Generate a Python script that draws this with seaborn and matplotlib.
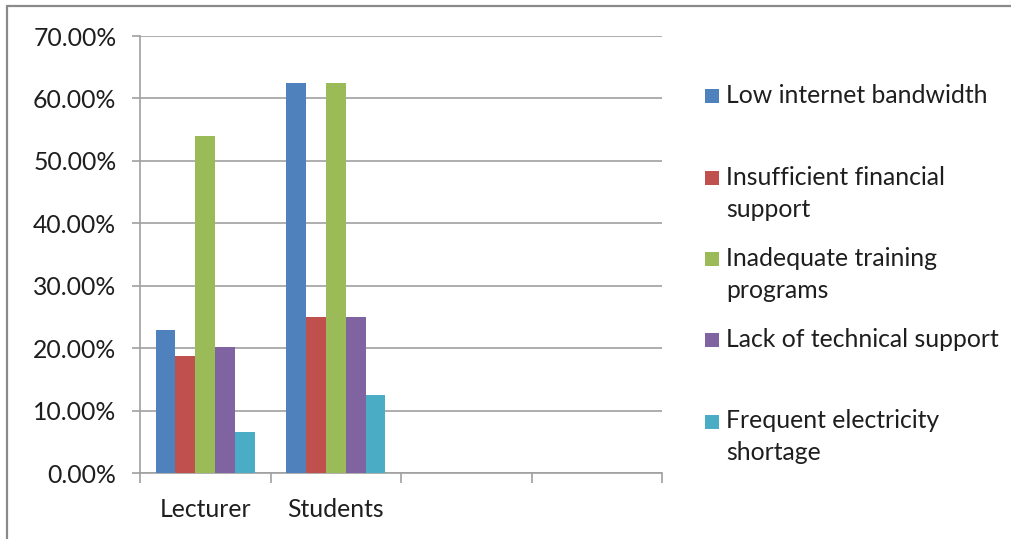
import matplotlib
matplotlib.use("Agg")
import matplotlib.pyplot as plt
import pandas as pd
import seaborn as sns
from matplotlib.lines import Line2D
from matplotlib.patches import Rectangle
from matplotlib.ticker import FixedLocator, PercentFormatter

# Respondent groups and reported challenges (percent of respondents)
groups = ["Lecturer", "Students"]
causes = [
    "Low internet bandwidth",
    "Insufficient financial support",
    "Inadequate training programs",
    "Lack of technical support",
    "Frequent electricity shortage",
]
legend_labels = [
    "Low internet bandwidth",
    "Insufficient financial\nsupport",
    "Inadequate training\nprograms",
    "Lack of technical support",
    "Frequent electricity\nshortage",
]
lecturer_pct = [22.9, 18.8, 54.0, 20.2, 6.6]
student_pct = [62.5, 25.0, 62.5, 25.0, 12.5]
colors = ["#4F81BD", "#C0504D", "#9BBB59", "#8064A2", "#4BACC6"]
y_ticks = [0, 10, 20, 30, 40, 50, 60, 70]

df = pd.DataFrame({
    "group": [groups[0]] * len(causes) + [groups[1]] * len(causes),
    "cause": causes + causes,
    "pct": lecturer_pct + student_pct,
})

sns.set_theme(style="white")
plt.rcParams["font.family"] = ["Lato", "DejaVu Sans"]
text_color = "#1e1e1e"
line_color = "#a0a0a0"
fs = 17.8

W, H = 1011, 539
fig = plt.figure(figsize=(W / 100, H / 100), dpi=100)
ax = fig.add_axes([140 / W, 1 - 473.3 / H, 522 / W, (473.3 - 36) / H])

sns.barplot(
    data=df, x="group", y="pct", hue="cause",
    order=groups, hue_order=causes, palette=colors,
    width=0.76, gap=0, saturation=1, linewidth=0,
    errorbar=None, legend=False, ax=ax, zorder=3,
)

# Four category slots, only the first two carry data
ax.set_xlim(-0.5, 3.5)
ax.set_ylim(0, 70)
ax.set_xlabel("")
ax.set_ylabel("")

ax.yaxis.set_major_locator(FixedLocator(y_ticks))
ax.yaxis.set_major_formatter(PercentFormatter(decimals=2))
ax.grid(axis="y", color=line_color, linewidth=1.2, zorder=0)
ax.set_axisbelow(True)

ax.xaxis.set_major_locator(FixedLocator([0, 1]))
ax.xaxis.set_minor_locator(FixedLocator([-0.5, 0.5, 1.5, 2.5, 3.5]))
ax.tick_params(axis="x", which="major", length=0, pad=18,
               labelsize=fs, labelcolor=text_color)
ax.tick_params(axis="x", which="minor", length=7.2, width=1.2,
               color=line_color, direction="out", bottom=True)
ax.tick_params(axis="y", length=6, width=1.2, color=line_color,
               direction="out", left=True, pad=11,
               labelsize=fs, labelcolor=text_color)

for side in ["top", "right"]:
    ax.spines[side].set_visible(False)
for side in ["left", "bottom"]:
    ax.spines[side].set_color(line_color)
    ax.spines[side].set_linewidth(1.2)

# Legend entries, evenly spaced with the swatch beside the first line
line_gap = 32
for i, (label, c) in enumerate(zip(legend_labels, colors)):
    base = 103.3 + 81.3 * i
    fig.add_artist(Rectangle((705 / W, 1 - base / H), 14 / W, 14 / H,
                             transform=fig.transFigure, color=c, lw=0))
    for j, line in enumerate(label.split("\n")):
        fig.text(726 / W, 1 - (base + j * line_gap) / H, line,
                 ha="left", va="baseline", fontsize=fs, color=text_color)

# Chart frame edges
fig.add_artist(Line2D([7 / W, 7 / W], [0, 1 - 6 / H], transform=fig.transFigure,
                      color="#8a8a8a", lw=1.6))
fig.add_artist(Line2D([7 / W, 1], [1 - 6 / H, 1 - 6 / H], transform=fig.transFigure,
                      color="#8a8a8a", lw=1.6))

fig.savefig("out.png", dpi=100, facecolor="white")
